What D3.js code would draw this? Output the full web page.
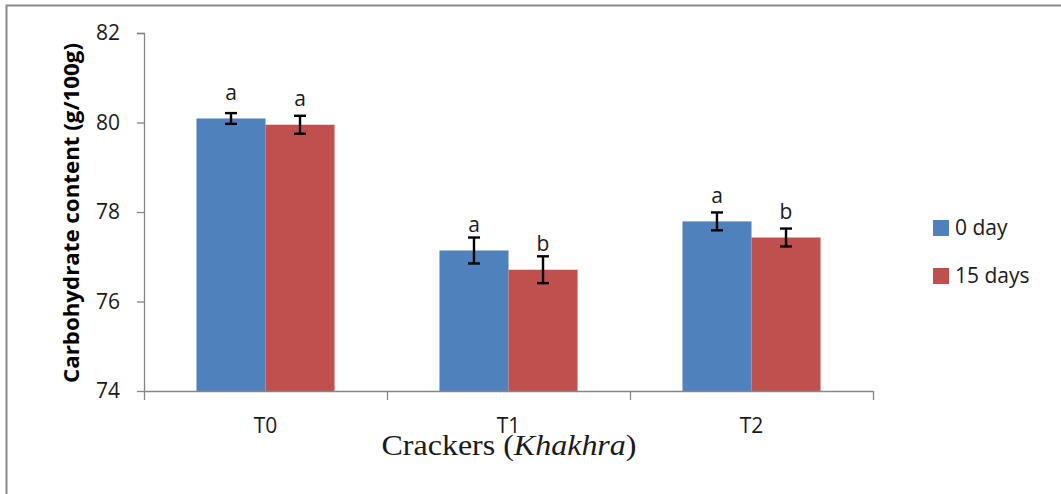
<!DOCTYPE html>
<html>
<head>
<meta charset="utf-8">
<script src="https://cdn.jsdelivr.net/npm/d3@7"></script>
<style>
  html, body { margin: 0; padding: 0; background: #fff; }
  svg { display: block; }
</style>
</head>
<body>
<svg id="chart" width="1061" height="494"></svg>
<script>
// Carbohydrate content of crackers (Khakhra) at 0 and 15 days of storage
const categories = ["T0", "T1", "T2"];
const seriesNames = ["0 day", "15 days"];
const day0Values = [80.09, 77.14, 77.79];
const day0Errors = [0.12, 0.29, 0.20];
const day0Letters = ["a", "a", "a"];
const day15Values = [79.95, 76.71, 77.43];
const day15Errors = [0.20, 0.30, 0.20];
const day15Letters = ["a", "b", "b"];
const yTicks = [74, 76, 78, 80, 82];

const colors = ["#4F81BD", "#C0504D"];
const axisColor = "#868686";
const font = "'Open Sans', 'DejaVu Sans', sans-serif";

const series = [
  { name: seriesNames[0], values: day0Values, errors: day0Errors, letters: day0Letters },
  { name: seriesNames[1], values: day15Values, errors: day15Errors, letters: day15Letters }
];

const svg = d3.select("#chart");

// outer frame (top and left edges visible)
svg.append("path")
  .attr("d", "M6.5,494 L6.5,5.5 L1061,5.5")
  .attr("fill", "none")
  .attr("stroke", "#8a8a8a")
  .attr("stroke-width", 2);

const plot = { left: 144, right: 873, top: 33, bottom: 391 };

const y = d3.scaleLinear().domain([74, 82]).range([plot.bottom, plot.top]);
const x0 = d3.scaleBand().domain(categories).range([plot.left, plot.right]).paddingInner(0).paddingOuter(0);
const x1 = d3.scaleBand().domain(seriesNames).range([0, x0.bandwidth()]).paddingInner(0).paddingOuter(0.76);

// y axis
const yAxis = svg.append("g")
  .attr("transform", `translate(${plot.left},0)`)
  .call(d3.axisLeft(y).tickValues(yTicks).tickSize(7).tickPadding(17).tickFormat(d3.format("d")));
yAxis.selectAll("path, line").attr("stroke", axisColor).attr("stroke-width", 1.3);
yAxis.select(".domain").attr("d", `M-7,${plot.top}.5H0.5V${plot.bottom}`);
yAxis.selectAll("text")
  .attr("fill", "#1a1a1a")
  .style("font-family", font)
  .style("font-size", "21px");

// bars
const groups = svg.append("g").selectAll("g")
  .data(categories)
  .join("g")
  .attr("transform", d => `translate(${x0(d)},0)`);

series.forEach((s, si) => {
  groups.append("rect")
    .attr("x", x1(s.name))
    .attr("width", x1.bandwidth())
    .attr("y", (d, i) => y(s.values[i]))
    .attr("height", (d, i) => y(74) - y(s.values[i]))
    .attr("fill", colors[si]);
});

// x axis drawn over the bar bottoms
const xAxis = svg.append("g")
  .attr("transform", `translate(0,${plot.bottom})`);
xAxis.append("line")
  .attr("x1", plot.left).attr("x2", plot.right)
  .attr("y1", 0.5).attr("y2", 0.5)
  .attr("stroke", axisColor).attr("stroke-width", 1.3);
const bounds = categories.map(c => x0(c)).concat([plot.right]);
xAxis.selectAll("line.tick")
  .data(bounds)
  .join("line")
  .attr("class", "tick")
  .attr("x1", d => d + 0.5).attr("x2", d => d + 0.5)
  .attr("y1", 0).attr("y2", 9)
  .attr("stroke", axisColor).attr("stroke-width", 1.3);
xAxis.selectAll("text")
  .data(categories)
  .join("text")
  .attr("x", d => x0(d) + x0.bandwidth() / 2)
  .attr("y", 42)
  .attr("text-anchor", "middle")
  .attr("fill", "#1a1a1a")
  .style("font-family", font)
  .style("font-size", "21px")
  .text(d => d);

// error bars and significance letters
series.forEach((s, si) => {
  const cx = i => x0(categories[i]) + x1(s.name) + x1.bandwidth() / 2;
  const eb = svg.append("g")
    .attr("stroke", "#000")
    .attr("stroke-width", 2.4)
    .attr("fill", "none");
  categories.forEach((c, i) => {
    const yHi = y(s.values[i] + s.errors[i]);
    const yLo = y(s.values[i] - s.errors[i]);
    eb.append("line").attr("x1", cx(i)).attr("x2", cx(i)).attr("y1", yHi).attr("y2", yLo);
    eb.append("line").attr("x1", cx(i) - 6).attr("x2", cx(i) + 6).attr("y1", yHi).attr("y2", yHi);
    eb.append("line").attr("x1", cx(i) - 6).attr("x2", cx(i) + 6).attr("y1", yLo).attr("y2", yLo);
  });
  svg.append("g").selectAll("text")
    .data(categories)
    .join("text")
    .attr("x", (d, i) => cx(i))
    .attr("y", (d, i) => y(s.values[i]) - 18.5)
    .attr("text-anchor", "middle")
    .attr("fill", "#1a1a1a")
    .style("font-family", font)
    .style("font-size", "21px")
    .text((d, i) => s.letters[i]);
});

// y axis title
svg.append("text")
  .attr("transform", "translate(79,213) rotate(-90)")
  .attr("text-anchor", "middle")
  .attr("fill", "#000")
  .attr("textLength", 340)
  .attr("lengthAdjust", "spacingAndGlyphs")
  .style("font-family", font)
  .style("font-weight", "bold")
  .style("font-size", "21px")
  .text("Carbohydrate content (g/100g)");

// x axis title
const xt = svg.append("text")
  .attr("x", 509)
  .attr("y", 455)
  .attr("text-anchor", "middle")
  .attr("fill", "#1a1a1a")
  .attr("textLength", 255)
  .attr("lengthAdjust", "spacingAndGlyphs")
  .style("font-family", "'Liberation Serif', 'Times New Roman', serif")
  .style("font-size", "29px");
xt.append("tspan").text("Crackers (");
xt.append("tspan").style("font-style", "italic").text("Khakhra");
xt.append("tspan").text(")");

// legend
const legend = svg.append("g").attr("transform", "translate(933,220)");
series.forEach((s, si) => {
  const row = legend.append("g").attr("transform", `translate(0,${si * 48})`);
  row.append("rect").attr("width", 16).attr("height", 16).attr("fill", colors[si]);
  row.append("text")
    .attr("x", 22).attr("y", 15)
    .attr("fill", "#1a1a1a")
    .style("font-family", font)
    .style("font-size", "21px")
    .text(s.name);
});
</script>
</body>
</html>
